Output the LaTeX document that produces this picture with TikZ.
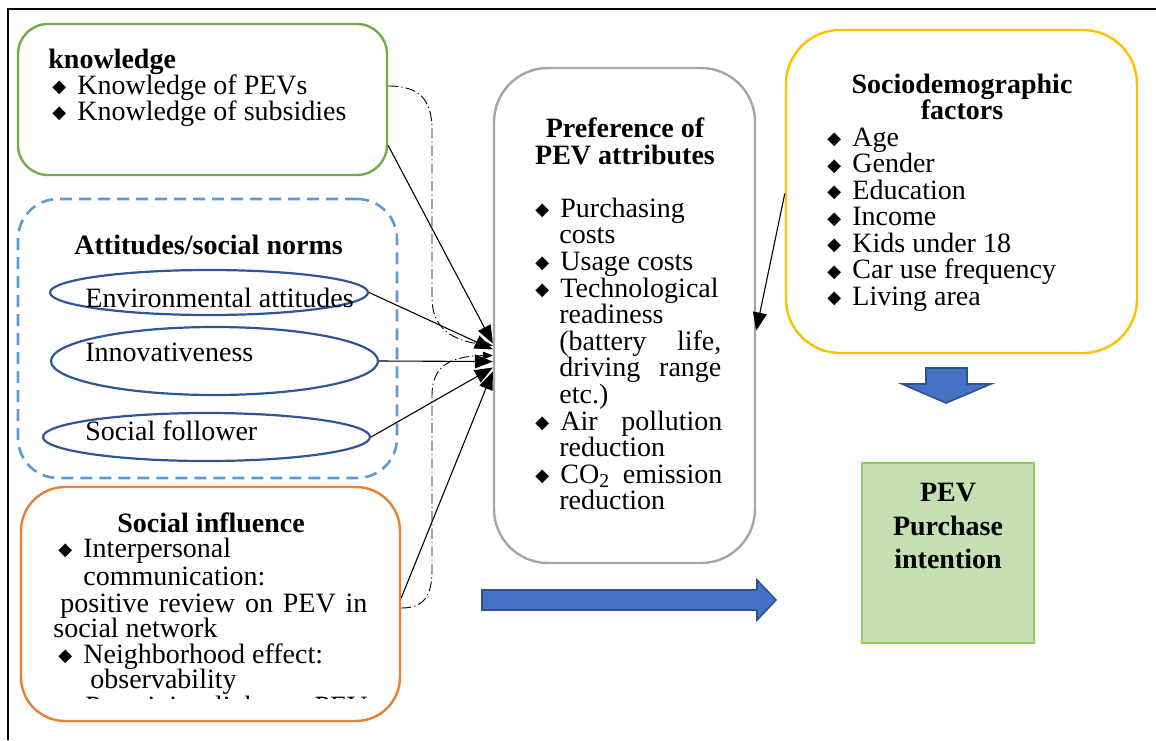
\documentclass[tikz,border=0pt]{standalone}
\usepackage{fontspec}
\setmainfont{Liberation Serif}
\newfontfamily\symfont{DejaVu Sans}
\usetikzlibrary{arrows.meta,shapes.geometric}
\newcommand{\itm}{\makebox[12.5pt][l]{\raisebox{0.6pt}{\symfont\fontsize{9}{9}\selectfont ◆}}}
\definecolor{cgreen}{HTML}{70AD47}
\definecolor{cdash}{HTML}{5B9BD5}
\definecolor{cell}{HTML}{2F5597}
\definecolor{corange}{HTML}{ED7D31}
\definecolor{cgray}{HTML}{A5A5A5}
\definecolor{cyellow}{HTML}{FFC000}
\definecolor{cpevfill}{HTML}{C5E0B4}
\definecolor{cpevline}{HTML}{92D050}
\definecolor{cblue}{HTML}{4472C4}
\definecolor{cblueline}{HTML}{2F528F}
\begin{document}
\begin{tikzpicture}[x=0.5pt,y=-0.5pt,
  txt/.style={inner sep=0pt, anchor=base west, font=\fontsize{14}{13.3}\selectfont},
  btxt/.style={inner sep=0pt, anchor=base west, font=\fontsize{14}{13.3}\selectfont\bfseries},
  ctitle/.style={inner sep=0pt, anchor=base, font=\fontsize{14}{13.3}\selectfont\bfseries},
  pevtxt/.style={inner sep=0pt, anchor=base, font=\fontsize{14}{17}\selectfont\bfseries},
  rbox/.style={draw, line width=1.2pt, inner sep=0pt},
  ell/.style={ellipse, draw=cell, line width=1.1pt, inner sep=0pt},
  conn/.style={line width=0.55pt, -{Triangle[length=9pt,width=7pt]}},
  dd/.style={line width=0.45pt, dash pattern=on 5pt off 1.6pt on 0.6pt off 1.6pt, -{Triangle[length=5pt,width=4pt]}},
  blk/.style={fill=cblue, draw=cblueline, line width=0.8pt}
]
\useasboundingbox (0,0) rectangle (1156,740);
% frame
\draw[line width=1.2pt] (8,740) -- (8,9) -- (1156,9);

% boxes
\node[rbox, draw=cgreen, rounded corners=15pt, minimum width=184.5pt, minimum height=75.5pt] (know) at (202.5,99.5) {};
\node[rbox, draw=cdash, line width=1.3pt, dash pattern=on 6pt off 3.5pt, rounded corners=20pt, minimum width=189.5pt, minimum height=139.5pt] (att) at (207.5,338.5) {};
\node[ell, minimum width=159pt, minimum height=22.5pt] (env) at (209,292.5) {};
\node[ell, minimum width=163.5pt, minimum height=34pt] (inn) at (214.5,361) {};
\node[ell, minimum width=163.5pt, minimum height=24pt] (fol) at (206.5,437) {};
\node[rbox, draw=corange, rounded corners=22pt, minimum width=189.5pt, minimum height=117pt] (si) at (210.5,604) {};
\node[rbox, draw=cgray, rounded corners=27pt, minimum width=130.5pt, minimum height=247.5pt] (pref) at (624.5,315.5) {};
\node[rbox, draw=cyellow, rounded corners=27pt, minimum width=175.5pt, minimum height=161.5pt] (soc) at (961.5,191.5) {};
\node[draw=cpevline, fill=cpevfill, line width=0.8pt, inner sep=0pt, minimum width=86pt, minimum height=90pt] (pev) at (948,553) {};

% knowledge text
\node[btxt] (kt) at (48,68) {knowledge};
\node[txt] (k1) at (52,94) {\itm Knowledge of PEVs};
\node[txt] (k2) at (52,120) {\itm Knowledge of subsidies};

% attitudes text
\node[btxt] (at) at (74,254) {Attitudes/social norms};
\node[txt] (e1) at (85,307) {Environmental attitudes};
\node[txt] (i1) at (85,361) {Innovativeness};
\node[txt] (f1) at (85,440) {Social follower};

% social influence text
\node[btxt] (st) at (117,532) {Social influence};
\node[txt] (s1) at (58,557) {\itm Interpersonal};
\node[txt] (s2) at (83,585) {communication:};
\node[txt] (s3) at (60,612) {\makebox[153.5pt][s]{positive review on PEV in}};
\node[txt] (s4) at (53,637) {social network};
\node[txt] (s5) at (58,663) {\itm Neighborhood effect:};
\node[txt] (s6) at (90,688) {observability};
\begin{scope}
\clip (0,0) rectangle (1156,698);
\node[txt] (s7) at (85,715) {\makebox[141pt][s]{Perceiving light on PEV}};
\end{scope}

% preference text
\node[ctitle] (pt1) at (625,137) {Preference of};
\node[ctitle] (pt2) at (625,164) {PEV attributes};
\node[txt] (p1) at (535,217) {\itm Purchasing};
\node[txt] (p2) at (559,243) {costs};
\node[txt] (p3) at (535,270) {\itm Usage costs};
\node[txt] (p4) at (535,297) {\itm Technological};
\node[txt] (p5) at (559,323) {readiness};
\node[txt] (p6) at (559,350) {\makebox[81pt][s]{(battery life,}};
\node[txt] (p7) at (559,376) {\makebox[81pt][s]{driving range}};
\node[txt] (p8) at (559,403) {etc.)};
\node[txt] (p9) at (535,430) {\itm\makebox[81pt][s]{Air pollution}};
\node[txt] (p10) at (559,456) {reduction};
\node[txt] (p11) at (535,483) {\itm\makebox[81pt][s]{CO\smash{\textsubscript{2}} emission}};
\node[txt] (p12) at (559,509) {reduction};

% sociodemographic text
\node[ctitle] (dt1) at (962,93) {Sociodemographic};
\node[ctitle] (dt2) at (962,119) {factors};
\foreach \t [count=\i] in {Age,Gender,Education,Income,Kids under 18,Car use frequency,Living area}
  \node[txt] (d\i) at (827,{146+(\i-1)*26.5}) {\itm \t};

% PEV text
\node[pevtxt] (v1) at (948,501) {PEV};
\node[pevtxt] (v2) at (948,535) {Purchase};
\node[pevtxt] (v3) at (948,568) {intention};

% dash-dot connectors
\draw[dd] ([yshift=6.75pt]know.east) .. controls (420,86) and (432,100) .. (432,130)
  -- (432,298) .. controls (432,328) and (452,341) .. ([yshift=-15pt]pref.west);
\draw[dd] ([yshift=-2pt]si.east) .. controls (424,608) and (432,596) .. (432,570)
  -- (432,395) .. controls (432,365) and (452,356) .. ([yshift=-20pt]pref.west);

% solid connectors
\draw[conn] ([yshift=-23pt]know.east) -- ([yshift=-14pt]pref.west);
\draw[conn] (env.east) -- ([yshift=-17pt]pref.west);
\draw[conn] (inn.east) -- ([yshift=-23pt]pref.west);
\draw[conn] (fol.east) -- ([yshift=-26pt]pref.west);
\draw[conn] ([yshift=3pt]si.east) -- ([yshift=-28pt]pref.west);
\draw[conn] ([yshift=-1pt]soc.west) -- ([yshift=-7.5pt]pref.east);

% block arrows
\draw[blk] (482,590) -- (757,590) -- (757,580) -- (776,600) -- (757,620) -- (757,610) -- (482,610) -- cycle;
\draw[blk] (926,368) -- (967,368) -- (967,384) -- (991,384) -- (946,403) -- (902,384) -- (926,384) -- cycle;
\end{tikzpicture}
\end{document}
